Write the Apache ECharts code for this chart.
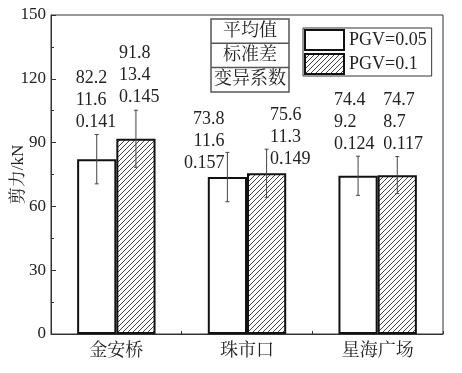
<!DOCTYPE html>
<html><head><meta charset="utf-8">
<script src="https://cdn.jsdelivr.net/npm/echarts@6/dist/echarts.min.js"></script>
<style>html,body{margin:0;padding:0;background:#fff}#c{width:462px;height:373px}</style>
</head><body><div id="c"></div>
<script>
const categories = ['金安桥', '珠市口', '星海广场'];
const seriesNames = ['PGV=0.05', 'PGV=0.1'];
const mean005 = [82.2, 73.8, 74.4];
const sd005 = [11.6, 11.6, 9.2];
const cv005 = [0.141, 0.157, 0.124];
const mean01 = [91.8, 75.6, 74.7];
const sd01 = [13.4, 11.3, 8.7];
const cv01 = [0.145, 0.149, 0.117];
const tableRows = ['平均值', '标准差', '变异系数'];
const yMin = 0, yMax = 150, yInterval = 30;

const FONT = "'Liberation Serif', 'Noto Serif CJK SC', 'Noto Sans CJK SC', serif";

// hatch pattern
const pc = document.createElement('canvas');
const S = 5;
pc.width = S; pc.height = S;
const g = pc.getContext('2d');
g.fillStyle = '#fff'; g.fillRect(0, 0, S, S);
g.strokeStyle = '#444'; g.lineWidth = 1;
g.beginPath();
g.moveTo(0, S); g.lineTo(S, 0);
g.moveTo(-1, 1); g.lineTo(1, -1);
g.moveTo(S - 1, S + 1); g.lineTo(S + 1, S - 1);
g.stroke();

// label placement (pixel offsets relative to error bar top)
const place = [
  [{dx: -21, align: 'left', va: 'bottom', dy: -1}, {dx: -3, align: 'right', va: 'middle', dy: -11}, {dx: -24, align: 'left', va: 'bottom', dy: -1}],
  [{dx: -17, align: 'left', va: 'bottom', dy: -2}, {dx: 3.5, align: 'left', va: 'middle', dy: -12}, {dx: -14, align: 'left', va: 'bottom', dy: -1}]
];

const means = [mean005, mean01], sds = [sd005, sd01], cvs = [cv005, cv01];

function errSeries(si) {
  return {
    type: 'custom', name: 'err' + si, z: 5,
    data: categories.map((c, i) => [i, means[si][i], sds[si][i], cvs[si][i]]),
    encode: {x: 0, y: 1},
    renderItem: function (params, api) {
      const ci = api.value(0), m = api.value(1), sd = api.value(2), cv = api.value(3);
      const cw = api.size([1, 0])[0];
      const off = (si === 0 ? -1 : 1) * cw * 0.3 / 2;
      const x = api.coord([ci, m])[0] + off;
      const top = api.coord([ci, m + sd])[1];
      const bot = api.coord([ci, m - sd])[1];
      const p = place[si][ci];
      const txt = m.toFixed(1) + '\n' + sd.toFixed(1) + '\n' + cv.toFixed(3);
      const ls = {stroke: '#444', lineWidth: 1};
      return {type: 'group', children: [
        {type: 'line', shape: {x1: x, y1: top, x2: x, y2: bot}, style: ls},
        {type: 'line', shape: {x1: x - 2, y1: top, x2: x + 2, y2: top}, style: ls},
        {type: 'line', shape: {x1: x - 2, y1: bot, x2: x + 2, y2: bot}, style: ls},
        {type: 'text', x: x + p.dx, y: top + p.dy, style: {
          text: txt, fontFamily: FONT, fontSize: 18, lineHeight: 22,
          align: p.align, verticalAlign: p.va, fill: '#222'}}
      ]};
    }
  };
}

const chart = echarts.init(document.getElementById('c'));
const tableX = 211, tableY = 19, cellW = 78, cellH = 24.3;
const graphics = [];
graphics.push({type: 'rect', shape: {x: tableX, y: tableY, width: cellW, height: cellH * 3}, style: {fill: '#fff', stroke: '#555', lineWidth: 1.5}, z: 10});
for (let r = 1; r < 3; r++) {
  graphics.push({type: 'line', shape: {x1: tableX, y1: tableY + cellH * r, x2: tableX + cellW, y2: tableY + cellH * r}, style: {stroke: '#555', lineWidth: 1.5}, z: 10});
}
tableRows.forEach((t, r) => {
  graphics.push({type: 'text', x: tableX + cellW / 2, y: tableY + cellH * r + cellH / 2, style: {text: t, fontFamily: FONT, fontSize: 18, fill: '#222', align: 'center', verticalAlign: 'middle'}, z: 11});
});

chart.setOption({
  animation: false,
  backgroundColor: '#fff',
  grid: {left: 51, right: 19, top: 15, bottom: 39, show: true, borderColor: '#333', borderWidth: 1, containLabel: false, outerBoundsMode: 'none'},
  legend: {
    data: seriesNames, orient: 'vertical', left: 303, top: 28, icon: 'rect',
    itemWidth: 39, itemHeight: 20, itemGap: 2, padding: [1, 5, 1, 1],
    borderColor: '#333', borderWidth: 1, backgroundColor: '#fff',
    textStyle: {fontFamily: FONT, fontSize: 18, color: '#222', padding: [0, 0, 0, 0]}
  },
  graphic: graphics,
  xAxis: {
    type: 'category', data: categories,
    axisLine: {lineStyle: {color: '#333'}},
    axisTick: {show: true, inside: true, length: 3, lineStyle: {color: '#333'}},
    axisLabel: {fontFamily: FONT, fontSize: 18, color: '#222', margin: 8}
  },
  yAxis: {
    type: 'value', min: yMin, max: yMax, interval: yInterval,
    name: '剪力/kN', nameLocation: 'middle', nameGap: 24, nameMoveOverlap: false,
    nameTextStyle: {fontFamily: FONT, fontSize: 17, color: '#222'},
    axisLine: {show: true, lineStyle: {color: '#333'}},
    axisTick: {show: true, inside: true, length: 5, lineStyle: {color: '#333'}},
    minorTick: {show: true, splitNumber: 2, length: 3, lineStyle: {color: '#333'}},
    splitLine: {show: false},
    axisLabel: {fontFamily: FONT, fontSize: 17, color: '#222', margin: 5}
  },
  series: [
    {type: 'bar', name: seriesNames[0], data: mean005, barGap: '0%', barCategoryGap: '40%',
     itemStyle: {color: '#fff', borderColor: '#111', borderWidth: 2}},
    {type: 'bar', name: seriesNames[1], data: mean01, barGap: '0%', barCategoryGap: '40%',
     itemStyle: {color: {image: pc, repeat: 'repeat'}, borderColor: '#111', borderWidth: 2}},
    errSeries(0), errSeries(1)
  ]
});
</script></body></html>
